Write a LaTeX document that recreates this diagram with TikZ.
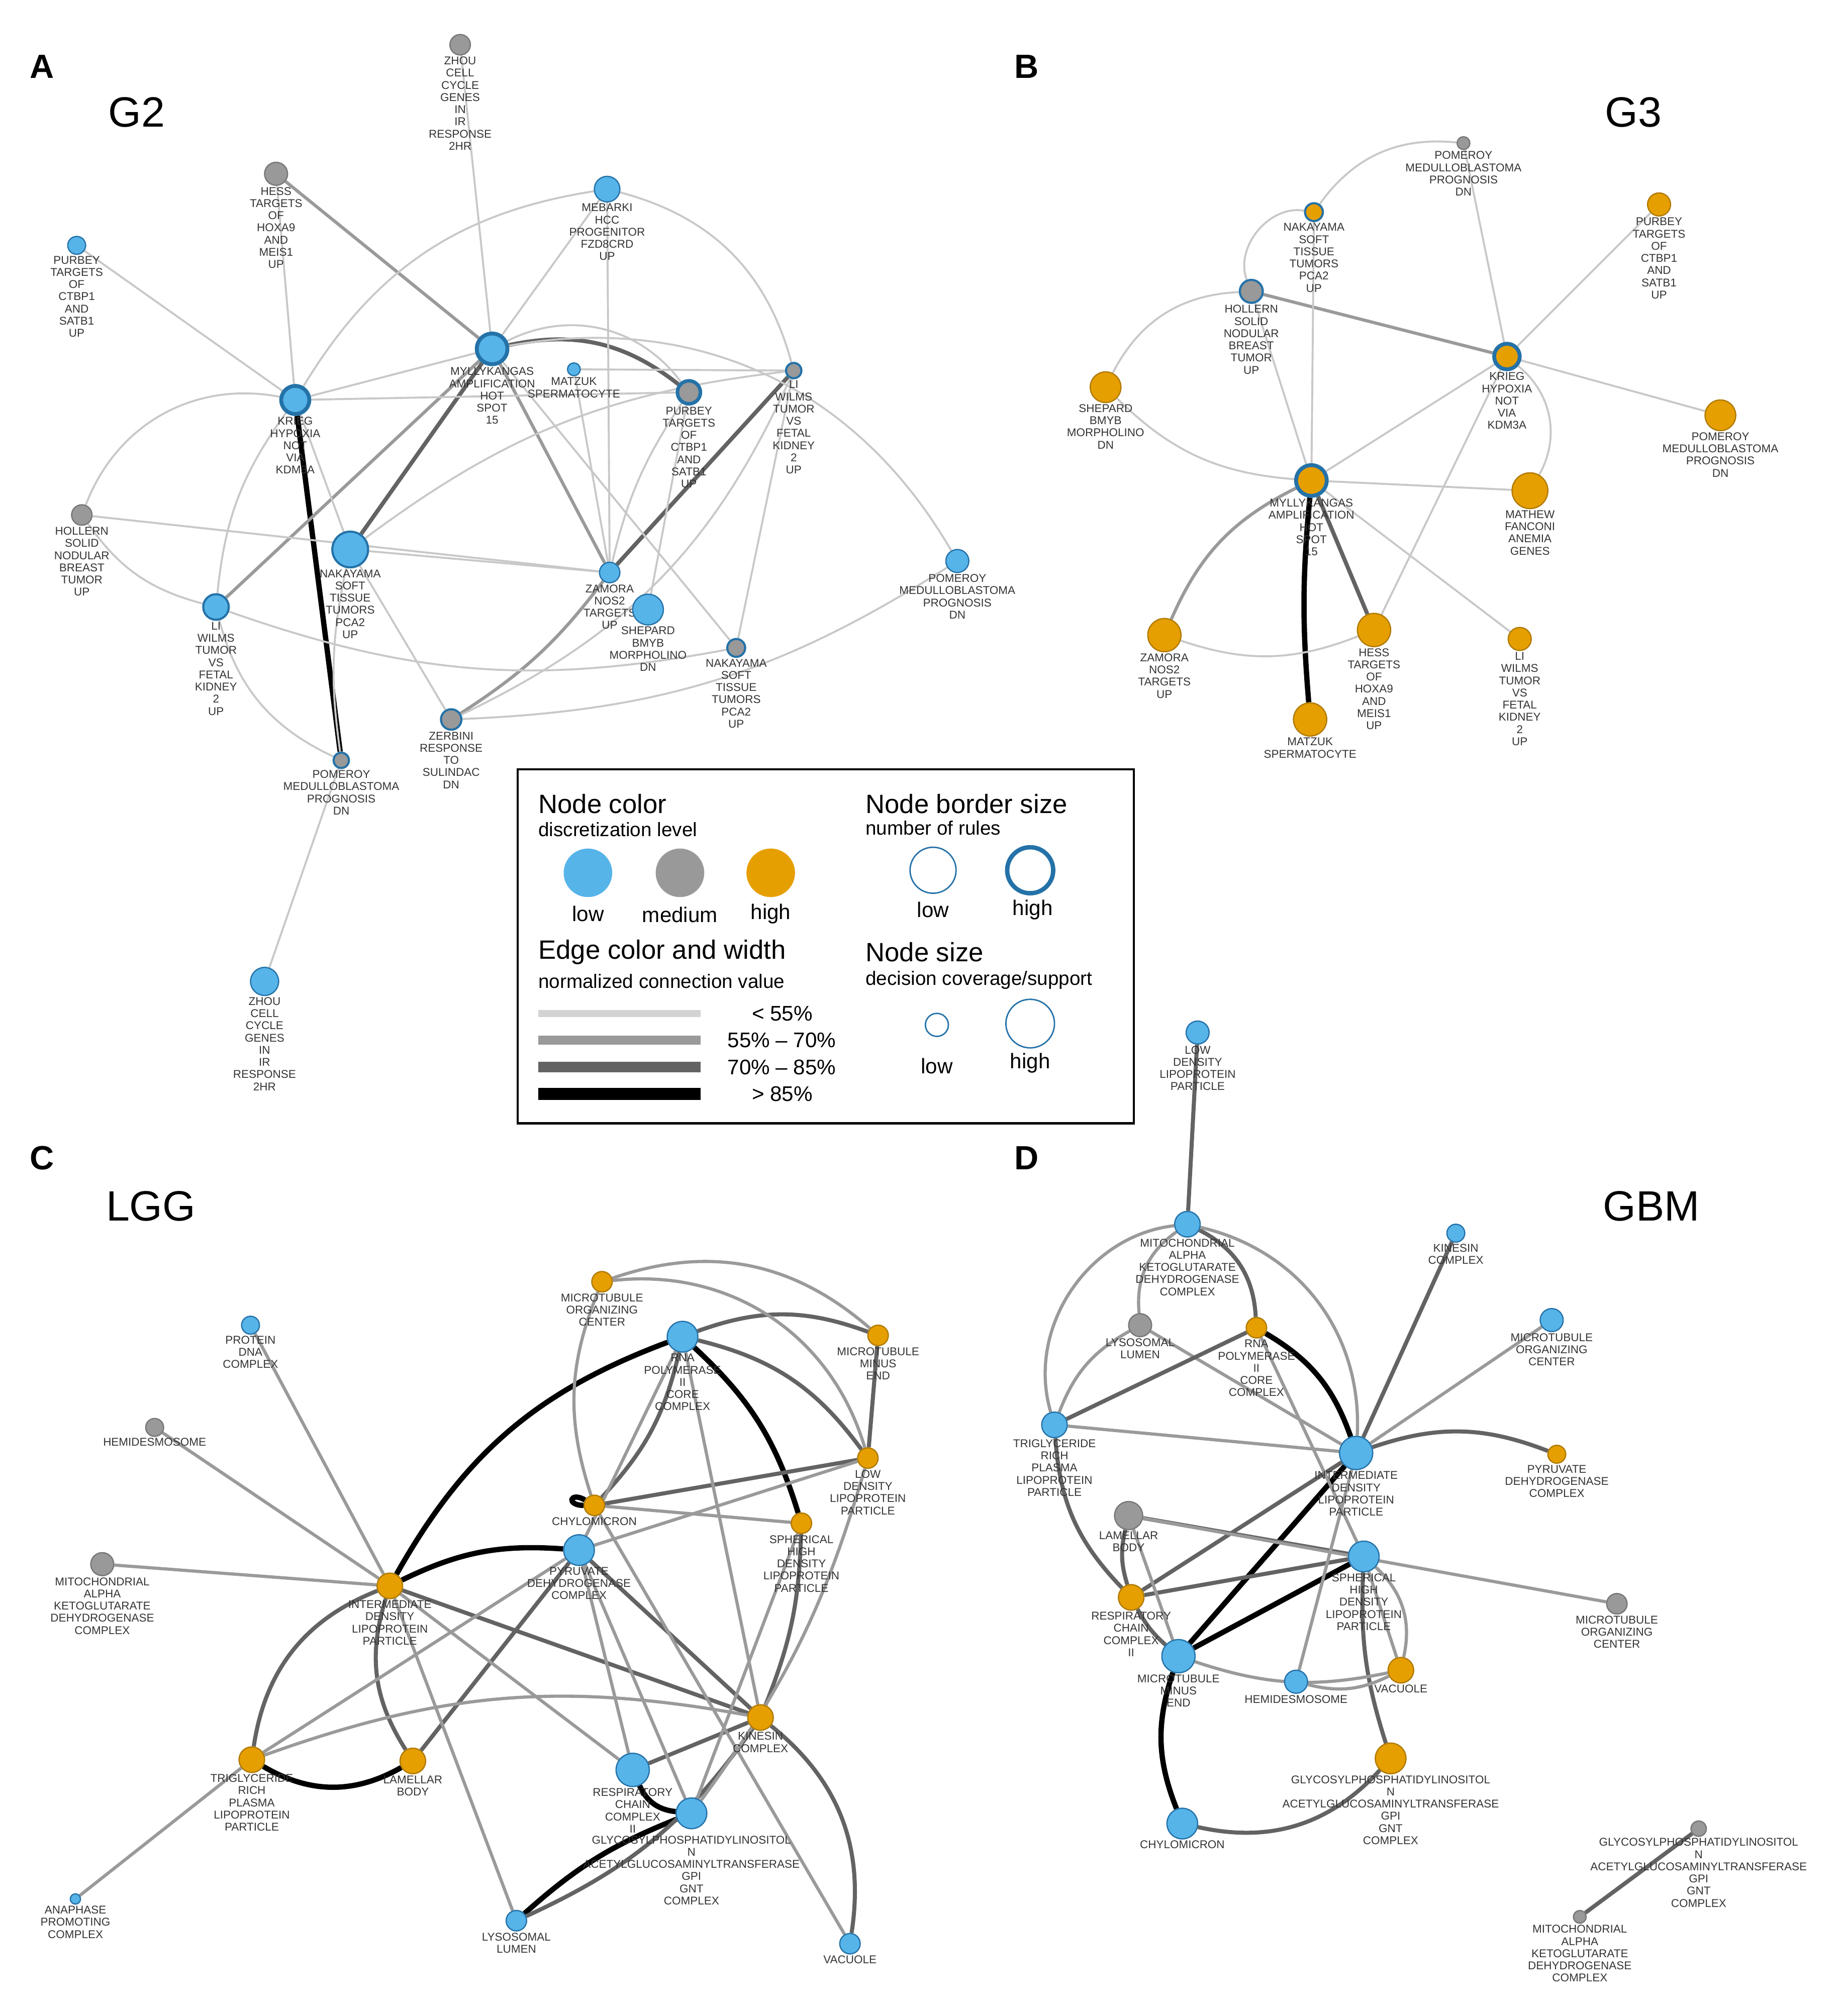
\documentclass[tikz,border=0pt]{standalone}
\usepackage{fontspec}
\setmainfont{Liberation Sans}
\usetikzlibrary{backgrounds}
\definecolor{cb}{HTML}{56B4E9}\definecolor{cbd}{HTML}{2472A8}
\definecolor{cg}{HTML}{999999}\definecolor{cgd}{HTML}{777777}
\definecolor{co}{HTML}{E69F00}\definecolor{cod}{HTML}{B07A00}
\definecolor{l1}{HTML}{C8C8C8}\definecolor{l2}{HTML}{9A9A9A}\definecolor{l3}{HTML}{636363}
\definecolor{txt}{HTML}{333333}
\newcommand{\lf}{\fontsize{6.4}{6.9}\selectfont}
\tikzset{
 r/.style={circle,minimum size=#1*0.05086cm,inner sep=0pt},
 bl/.style={fill=cb,draw=cbd,line width=0.7pt},
 gr/.style={fill=cg,draw=cgd,line width=0.7pt},
 gb/.style={fill=cg,draw=cbd,line width=1.2pt},
 or/.style={fill=co,draw=cod,line width=0.7pt},
 ob/.style={fill=co,draw=cbd,line width=1.2pt},
 tb/.style={draw=cbd,line width=2.2pt},
 lab/.style={font=\lf,align=center,text=txt,inner sep=0.5pt,label distance=0pt},
 e1/.style={draw=l1,line width=1.1pt},
 e2/.style={draw=l2,line width=1.8pt},
 e3/.style={draw=l3,line width=2.3pt},
 e4/.style={draw=black,line width=3pt},
 big/.style={font=\fontsize{24}{26}\selectfont,text=black},
 pl/.style={font=\bfseries\fontsize{19}{20}\selectfont},
 lt/.style={font=\fontsize{15}{16}\selectfont,anchor=west,inner sep=0},
 ls/.style={font=\fontsize{11}{12}\selectfont,anchor=west,inner sep=0},
 lv/.style={font=\fontsize{12}{13}\selectfont,inner sep=0},
}
\begin{document}
\begin{tikzpicture}[x=0.02543cm,y=-0.02543cm]
\useasboundingbox (0,0) rectangle (1440,1577.6);
% titles
\node[pl] (pA) at (33,52) {A}; \node[pl] (pB) at (803,52) {B};
\node[pl] (pC) at (33,906) {C}; \node[pl] (pD) at (803,906) {D};
\node[big] (tA) at (107,88) {G2}; \node[big] (tB) at (1278,88) {G3};
\node[big] (tC) at (118,944) {LGG}; \node[big] (tD) at (1292,944) {GBM};
% ===== Panel A
\node[gr,r=8,label={[lab]below:{ZHOU\\CELL\\CYCLE\\GENES\\IN\\IR\\RESPONSE\\2HR}}] (zhouT) at (360,35) {};
\node[gr,r=9,label={[lab]below:{HESS\\TARGETS\\OF\\HOXA9\\AND\\MEIS1\\UP}}] (hess) at (216,136) {};
\node[bl,r=10,label={[lab]below:{MEBARKI\\HCC\\PROGENITOR\\FZD8CRD\\UP}}] (meb) at (475,148) {};
\node[bl,r=7,label={[lab]below:{PURBEY\\TARGETS\\OF\\CTBP1\\AND\\SATB1\\UP}}] (purA) at (60,192) {};
\node[bl,tb,r=11,label={[lab]below:{KRIEG\\HYPOXIA\\NOT\\VIA\\KDM3A}}] (krieg) at (231,313) {};
\node[bl,tb,r=12,label={[lab]below:{MYLLYKANGAS\\AMPLIFICATION\\HOT\\SPOT\\15}}] (mylly) at (385,273) {};
\node[bl,r=5,label={[lab]below:{MATZUK\\SPERMATOCYTE}}] (matz) at (449,289) {};
\node[gb,line width=2pt,r=9,label={[lab]below:{PURBEY\\TARGETS\\OF\\CTBP1\\AND\\SATB1\\UP}}] (purA2) at (539,307) {};
\node[gb,r=6,label={[lab]below:{LI\\WILMS\\TUMOR\\VS\\FETAL\\KIDNEY\\2\\UP}}] (liA) at (621,290) {};
\node[gr,r=8,label={[lab]below:{HOLLERN\\SOLID\\NODULAR\\BREAST\\TUMOR\\UP}}] (holl) at (64,403) {};
\node[bl,line width=1.2pt,r=14,label={[lab]below:{NAKAYAMA\\SOFT\\TISSUE\\TUMORS\\PCA2\\UP}}] (naka) at (274,430) {};
\node[bl,line width=1.2pt,r=10,label={[lab]below:{LI\\WILMS\\TUMOR\\VS\\FETAL\\KIDNEY\\2\\UP}}] (li) at (169,475) {};
\node[bl,r=8,label={[lab]below:{ZAMORA\\NOS2\\TARGETS\\UP}}] (zam) at (477,448) {};
\node[bl,r=12,label={[lab]below:{SHEPARD\\BMYB\\MORPHOLINO\\DN}}] (shep) at (507,477) {};
\node[bl,r=9,label={[lab]below:{POMEROY\\MEDULLOBLASTOMA\\PROGNOSIS\\DN}}] (pomR) at (749,439) {};
\node[gb,r=7,label={[lab]below:{NAKAYAMA\\SOFT\\TISSUE\\TUMORS\\PCA2\\UP}}] (naka2) at (576,507) {};
\node[gb,r=8,label={[lab]below:{ZERBINI\\RESPONSE\\TO\\SULINDAC\\DN}}] (zerb) at (353,563) {};
\node[gb,r=6,label={[lab]below:{POMEROY\\MEDULLOBLASTOMA\\PROGNOSIS\\DN}}] (pom) at (267,595) {};
\node[bl,r=11,label={[lab]below:{ZHOU\\CELL\\CYCLE\\GENES\\IN\\IR\\RESPONSE\\2HR}}] (zhou) at (207,768) {};
\begin{scope}[on background layer]
\draw[e4] (krieg) -- (pom);
\draw[e3] (mylly) -- (naka);
\draw[e2] (mylly) -- (hess);
\draw[e3] (mylly) to[bend left=25] (purA2);
\draw[e3] (liA) -- (zam);
\draw[e2] (li) -- (mylly);
\draw[e2] (zam) to[bend left=10] (zerb);
\draw[e2] (mylly) -- (zam);
\draw[e1] (krieg) -- (purA);
\draw[e1] (krieg) -- (hess);
\draw[e1] (krieg) -- (mylly);
\draw[e1] (krieg) to[bend left=25] (meb);
\draw[e1] (krieg) to[bend right=40] (holl);
\draw[e1] (krieg) -- (naka);
\draw[e1] (krieg) to[bend right=15] (li);
\draw[e1] (krieg) -- (purA2);
\draw[e1] (holl) to[bend right=20] (li);
\draw[e1] (holl) -- (zam);
\draw[e1] (zhouT) -- (mylly);
\draw[e1] (meb) -- (mylly);
\draw[e1] (meb) to[bend left=30] (liA);
\draw[e1] (meb) -- (zam);
\draw[e1] (mylly) to[bend left=35] (pomR);
\draw[e1] (mylly) to[bend left=40] (purA2);
\draw[e1] (mylly) -- (naka2);
\draw[e1] (naka) -- (zerb);
\draw[e1] (naka) -- (zam);
\draw[e1] (naka) to[bend left=15] (liA);
\draw[e1] (pomR) to[bend left=15] (zerb);
\draw[e1] (pom) -- (zhou);
\draw[e1] (li) to[bend right=25] (pom);
\draw[e1] (li) to[bend right=15] (naka2);
\draw[e1] (liA) -- (naka2);
\draw[e1] (purA2) to[bend right=10] (zam);
\draw[e1] (purA2) -- (shep);
\draw[e1] (matz) -- (zam);
\draw[e1] (matz) -- (liA);
\draw[e1] (naka) to[bend right=10] (pom);
\draw[e1] (liA) to[bend left=20] (zerb);
\end{scope}
% ===== Panel B
\node[gr,r=5,label={[lab]below:{POMEROY\\MEDULLOBLASTOMA\\PROGNOSIS\\DN}}] (pomT) at (1145,112) {};
\node[ob,r=7,label={[lab]below:{NAKAYAMA\\SOFT\\TISSUE\\TUMORS\\PCA2\\UP}}] (nakB) at (1028,166) {};
\node[or,r=9,label={[lab]below:{PURBEY\\TARGETS\\OF\\CTBP1\\AND\\SATB1\\UP}}] (purB) at (1298,160) {};
\node[gb,r=9,label={[lab]below:{HOLLERN\\SOLID\\NODULAR\\BREAST\\TUMOR\\UP}}] (holB) at (979,228) {};
\node[or,tb,r=10,label={[lab]below:{KRIEG\\HYPOXIA\\NOT\\VIA\\KDM3A}}] (krB) at (1179,279) {};
\node[or,r=12,label={[lab]below:{SHEPARD\\BMYB\\MORPHOLINO\\DN}}] (shB) at (865,303) {};
\node[or,r=12,label={[lab]below:{POMEROY\\MEDULLOBLASTOMA\\PROGNOSIS\\DN}}] (pomB) at (1346,325) {};
\node[or,tb,r=12,label={[lab]below:{MYLLYKANGAS\\AMPLIFICATION\\HOT\\SPOT\\15}}] (myB) at (1026,376) {};
\node[or,r=14,label={[lab]below:{MATHEW\\FANCONI\\ANEMIA\\GENES}}] (math) at (1197,384) {};
\node[or,r=13,label={[lab]below:{ZAMORA\\NOS2\\TARGETS\\UP}}] (zamB) at (911,497) {};
\node[or,r=13,label={[lab]below:{HESS\\TARGETS\\OF\\HOXA9\\AND\\MEIS1\\UP}}] (hesB) at (1075,493) {};
\node[or,r=9,label={[lab]below:{LI\\WILMS\\TUMOR\\VS\\FETAL\\KIDNEY\\2\\UP}}] (liB) at (1189,500) {};
\node[or,r=13,label={[lab]below:{MATZUK\\SPERMATOCYTE}}] (matB) at (1025,563) {};
\begin{scope}[on background layer]
\draw[e4] (myB) to[bend right=5] (matB);
\draw[e3] (myB) -- (hesB);
\draw[e2] (myB) to[bend right=20] (zamB);
\draw[e2] (krB) -- (holB);
\draw[e1] (pomT) to[bend right=30] (nakB);
\draw[e1] (pomT) -- (krB);
\draw[e1] (nakB) to[bend right=60] (holB);
\draw[e1] (nakB) -- (myB);
\draw[e1] (holB) -- (myB);
\draw[e1] (holB) to[bend right=30] (shB);
\draw[e1] (shB) to[bend right=20] (myB);
\draw[e1] (krB) -- (purB);
\draw[e1] (krB) -- (pomB);
\draw[e1] (krB) -- (myB);
\draw[e1] (krB) to[bend left=40] (math);
\draw[e1] (myB) -- (math);
\draw[e1] (myB) -- (liB);
\draw[e1] (krB) -- (hesB);
\draw[e1] (zamB) to[bend right=20] (hesB);
\end{scope}
% ===== Legend
\draw[line width=1.2pt] (405,602) rectangle (887,879);
\node[lt] (lg1) at (421,629) {Node color};
\node[ls] (lg2) at (421,649) {discretization level};
\node[fill=cb,r=19] (lc1) at (460,683) {};
\node[fill=cg,r=19] (lc2) at (532,683) {};
\node[fill=co,r=19] (lc3) at (603,683) {};
\node[lv] (lc1t) at (460,715) {low};
\node[lv] (lc2t) at (532,716) {medium};
\node[lv] (lc3t) at (603,715) {high};
\node[lt] (lg3) at (677,629) {Node border size};
\node[ls] (lg4) at (677,648) {number of rules};
\node[draw=cbd,line width=0.8pt,r=18] (lb1) at (730,681) {};
\node[draw=cbd,line width=2.5pt,r=18] (lb2) at (806,681) {};
\node[lv] (lb1t) at (730,712) {low};
\node[lv] (lb2t) at (808,712) {high};
\node[lt] (lg5) at (421,745) {Edge color and width};
\node[ls] (lg6) at (421,768) {normalized connection value};
\coordinate (w1a) at (421,793); \coordinate (w1b) at (548,793);
\coordinate (w2a) at (421,814); \coordinate (w2b) at (548,814);
\coordinate (w3a) at (421,835); \coordinate (w3b) at (548,835);
\coordinate (w4a) at (421,856); \coordinate (w4b) at (548,856);
\draw[draw=l1!80,line width=4pt] (w1a) -- (w1b);
\draw[draw=l2,line width=5pt] (w2a) -- (w2b);
\draw[draw=l3,line width=6pt] (w3a) -- (w3b);
\draw[draw=black,line width=7pt] (w4a) -- (w4b);
\node[lv,anchor=west] (wt1) at (588,793) {< 55\%};
\node[lv,anchor=west] (wt2) at (569,814) {55\% – 70\%};
\node[lv,anchor=west] (wt3) at (569,835) {70\% – 85\%};
\node[lv,anchor=west] (wt4) at (588,856) {> 85\%};
\node[lt] (lg7) at (677,745) {Node size};
\node[ls] (lg8) at (677,767) {decision coverage/support};
\node[draw=cbd,line width=0.8pt,r=9] (ls1) at (733,802) {};
\node[draw=cbd,line width=0.8pt,r=19] (ls2) at (806,801) {};
\node[lv] (ls1t) at (733,834) {low};
\node[lv] (ls2t) at (806,832) {high};
% ===== Panel C
\node[or,r=8,label={[lab]below:{MICROTUBULE\\ORGANIZING\\CENTER}}] (moc) at (471,1003) {};
\node[bl,r=12,label={[lab]below:{RNA\\POLYMERASE\\II\\CORE\\COMPLEX}}] (rna) at (534,1046) {};
\node[or,r=8,label={[lab]below:{MICROTUBULE\\MINUS\\END}}] (mme) at (687,1045) {};
\node[bl,r=7,label={[lab]below:{PROTEIN\\DNA\\COMPLEX}}] (prot) at (196,1037) {};
\node[gr,r=7,label={[lab]below:{HEMIDESMOSOME}}] (hemi) at (121,1117) {};
\node[or,r=8,label={[lab]below:{LOW\\DENSITY\\LIPOPROTEIN\\PARTICLE}}] (ldl) at (679,1141) {};
\node[or,r=8,label={[lab]below:{CHYLOMICRON}}] (chy) at (465,1178) {};
\node[or,r=8,label={[lab]below:{SPHERICAL\\HIGH\\DENSITY\\LIPOPROTEIN\\PARTICLE}}] (sph) at (627,1192) {};
\node[bl,r=12,label={[lab]below:{PYRUVATE\\DEHYDROGENASE\\COMPLEX}}] (pyr) at (453,1213) {};
\node[gr,r=9,label={[lab]below:{MITOCHONDRIAL\\ALPHA\\KETOGLUTARATE\\DEHYDROGENASE\\COMPLEX}}] (mito) at (80,1224) {};
\node[or,r=10,label={[lab]below:{INTERMEDIATE\\DENSITY\\LIPOPROTEIN\\PARTICLE}}] (idl) at (305,1241) {};
\node[or,r=10,label={[lab]below:{KINESIN\\COMPLEX}}] (kin) at (595,1344) {};
\node[or,r=10,label={[lab]below:{TRIGLYCERIDE\\RICH\\PLASMA\\LIPOPROTEIN\\PARTICLE}}] (trig) at (197,1377) {};
\node[or,r=10,label={[lab]below:{LAMELLAR\\BODY}}] (lam) at (323,1378) {};
\node[bl,r=13,label={[lab]below:{RESPIRATORY\\CHAIN\\COMPLEX\\II}}] (resp) at (495,1385) {};
\node[bl,r=12,label={[lab,label distance=3pt]below:{GLYCOSYLPHOSPHATIDYLINOSITOL\\N\\ACETYLGLUCOSAMINYLTRANSFERASE\\GPI\\GNT\\COMPLEX}}] (gpi) at (541,1419) {};
\node[bl,r=4,label={[lab]below:{ANAPHASE\\PROMOTING\\COMPLEX}}] (ana) at (59,1486) {};
\node[bl,r=8,label={[lab]below:{LYSOSOMAL\\LUMEN}}] (lyso) at (404,1503) {};
\node[bl,r=8,label={[lab]below:{VACUOLE}}] (vac) at (665,1521) {};
\begin{scope}[on background layer]
\draw[e4] (idl) to[bend left=20] (rna);
\draw[e4] (idl) to[bend left=15] (pyr);
\draw[e4] (rna) to[bend left=15] (sph);
\draw[e4] (chy) to[out=150,in=180,looseness=8] (chy);
\draw[e4] (trig) to[bend right=30] (lam);
\draw[e4] (lyso) to[bend left=10] (gpi);
\draw[e4] (resp) to[bend right=30] (gpi);
\draw[e3] (idl) -- (kin);
\draw[e3] (idl) to[bend right=30] (trig);
\draw[e3] (idl) to[bend right=25] (lam);
\draw[e3] (rna) to[bend left=15] (chy);
\draw[e3] (rna) to[bend left=20] (ldl);
\draw[e3] (rna) to[bend left=20] (mme);
\draw[e3] (mme) -- (ldl);
\draw[e3] (ldl) -- (chy);
\draw[e3] (pyr) -- (kin);
\draw[e3] (kin) to[bend right=10] (sph);
\draw[e3] (kin) to[bend left=30] (vac);
\draw[e3] (kin) -- (resp);
\draw[e3] (lam) -- (pyr);
\draw[e3] (kin) to[bend left=15] (lyso);
\draw[e2] (idl) -- (hemi);
\draw[e2] (idl) -- (prot);
\draw[e2] (idl) -- (mito);
\draw[e2] (trig) -- (ana);
\draw[e2] (trig) -- (pyr);
\draw[e2] (idl) -- (resp);
\draw[e2] (idl) -- (lyso);
\draw[e2] (pyr) -- (gpi);
\draw[e2] (sph) -- (gpi);
\draw[e2] (moc) to[bend left=30] (mme);
\draw[e2] (moc) to[bend left=40] (ldl);
\draw[e2] (moc) to[bend right=20] (chy);
\draw[e2] (rna) -- (pyr);
\draw[e2] (rna) -- (kin);
\draw[e2] (chy) -- (sph);
\draw[e2] (ldl) to[bend left=10] (gpi);
\draw[e2] (chy) -- (vac);
\draw[e2] (trig) to[bend left=15] (kin);
\draw[e2] (pyr) -- (resp);
\draw[e2] (ldl) -- (pyr);
\end{scope}
% ===== Panel D
\node[bl,r=9,label={[lab]below:{LOW\\DENSITY\\LIPOPROTEIN\\PARTICLE}}] (ldlD) at (937,808) {};
\node[bl,r=10,label={[lab]below:{MITOCHONDRIAL\\ALPHA\\KETOGLUTARATE\\DEHYDROGENASE\\COMPLEX}}] (mitD) at (929,958) {};
\node[bl,r=7,label={[lab]below:{KINESIN\\COMPLEX}}] (kinD) at (1139,965) {};
\node[bl,r=9,label={[lab]below:{MICROTUBULE\\ORGANIZING\\CENTER}}] (mocD) at (1214,1033) {};
\node[gr,r=9,label={[lab]below:{LYSOSOMAL\\LUMEN}}] (lysD) at (892,1037) {};
\node[or,r=8,label={[lab]below:{RNA\\POLYMERASE\\II\\CORE\\COMPLEX}}] (rnaD) at (983,1039) {};
\node[bl,r=10,label={[lab]below:{TRIGLYCERIDE\\RICH\\PLASMA\\LIPOPROTEIN\\PARTICLE}}] (trD) at (825,1115) {};
\node[bl,r=13,label={[lab]below:{INTERMEDIATE\\DENSITY\\LIPOPROTEIN\\PARTICLE}}] (idlD) at (1061,1137) {};
\node[or,r=7,label={[lab]below:{PYRUVATE\\DEHYDROGENASE\\COMPLEX}}] (pyrD) at (1218,1138) {};
\node[gr,r=11,label={[lab]below:{LAMELLAR\\BODY}}] (lamD) at (883,1186) {};
\node[bl,r=12,label={[lab]below:{SPHERICAL\\HIGH\\DENSITY\\LIPOPROTEIN\\PARTICLE}}] (sphD) at (1067,1218) {};
\node[or,r=10,label={[lab]below:{RESPIRATORY\\CHAIN\\COMPLEX\\II}}] (resD) at (885,1250) {};
\node[gr,r=8,label={[lab]below:{MICROTUBULE\\ORGANIZING\\CENTER}}] (mocD2) at (1265,1255) {};
\node[or,r=10,label={[lab]below:{VACUOLE}}] (vacD) at (1096,1307) {};
\node[bl,r=13,label={[lab]below:{MICROTUBULE\\MINUS\\END}}] (mmeD) at (922,1296) {};
\node[bl,r=9,label={[lab]below:{HEMIDESMOSOME}}] (hemD) at (1014,1316) {};
\node[or,r=12,label={[lab]below:{GLYCOSYLPHOSPHATIDYLINOSITOL\\N\\ACETYLGLUCOSAMINYLTRANSFERASE\\GPI\\GNT\\COMPLEX}}] (gpiD) at (1088,1376) {};
\node[bl,r=12,label={[lab]below:{CHYLOMICRON}}] (chyD) at (925,1427) {};
\node[gr,r=6,label={[lab]below:{GLYCOSYLPHOSPHATIDYLINOSITOL\\N\\ACETYLGLUCOSAMINYLTRANSFERASE\\GPI\\GNT\\COMPLEX}}] (gpiD2) at (1329,1431) {};
\node[gr,r=5,label={[lab]below:{MITOCHONDRIAL\\ALPHA\\KETOGLUTARATE\\DEHYDROGENASE\\COMPLEX}}] (mitD2) at (1236,1500) {};
\begin{scope}[on background layer]
\draw[e3] (ldlD) -- (mitD);
\draw[e2] (mitD) to[bend right=30] (lysD);
\draw[e3] (mitD) to[bend left=30] (rnaD);
\draw[e2] (mitD) to[bend right=50] (trD);
\draw[e2] (mitD) to[bend left=40] (idlD);
\draw[e2] (lysD) -- (idlD);
\draw[e2] (lysD) to[bend right=20] (trD);
\draw[e4] (rnaD) to[bend left=20] (idlD);
\draw[e3] (trD) -- (rnaD);
\draw[e3] (trD) to[bend right=20] (resD);
\draw[e4] (idlD) -- (mmeD);
\draw[e3] (idlD) -- (kinD);
\draw[e2] (idlD) -- (mocD);
\draw[e3] (idlD) to[bend left=20] (pyrD);
\draw[e3] (idlD) -- (resD);
\draw[e3] (lamD) -- (sphD);
\draw[e2] (lamD) -- (mocD2);
\draw[e3] (resD) -- (sphD);
\draw[e4] (mmeD) -- (sphD);
\draw[e4] (mmeD) to[bend right=20] (chyD);
\draw[e3] (chyD) to[bend right=30] (gpiD);
\draw[e3] (gpiD) to[bend left=10] (sphD);
\draw[e2] (vacD) -- (sphD);
\draw[e2] (vacD) to[bend left=20] (hemD);
\draw[e2] (hemD) -- (idlD);
\draw[e2] (mmeD) to[bend right=15] (vacD);
\draw[e2] (rnaD) -- (sphD);
\draw[e2] (lamD) -- (mmeD);
\draw[e3] (resD) to[bend right=10] (mmeD);
\draw[e2] (trD) -- (idlD);
\draw[e2] (sphD) to[bend left=30] (vacD);
\draw[e3] (gpiD2) -- (mitD2);
\draw[e3] (lamD) to[bend right=15] (resD);
\end{scope}
\end{tikzpicture}
\end{document}
